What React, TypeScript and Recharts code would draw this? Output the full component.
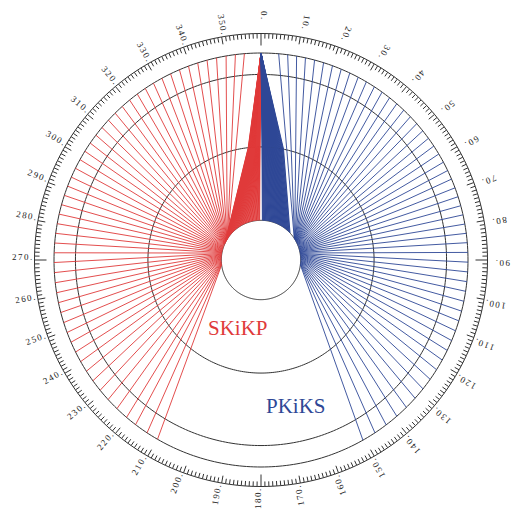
import React from 'react';
import { ComposedChart, Line, Scatter, XAxis, YAxis } from 'recharts';

// radii in km
const EARTH_R = 6371;
const DISC_R = 5711;
const CMB_R = 3480;
const ICB_R = 1221;

// where the rays come back to the surface, degrees clockwise from the source
const skikpReceivers = [
  355.4, 352.9, 350.3, 347.6, 344.9, 342.2, 339.5, 336.8, 334.1, 331.4, 328.7, 326.0,
  323.3, 320.6, 317.9, 315.2, 312.5, 309.8, 307.1, 304.4, 301.7, 299.0, 296.3, 293.6,
  290.9, 288.2, 285.5, 282.8, 280.1, 277.4, 274.7, 272.0, 269.3, 266.5, 263.7, 260.9,
  258.1, 255.3, 252.4, 249.5, 246.6, 243.6, 240.6, 237.5, 234.3, 231.0, 227.6, 224.1,
  220.5, 217.3, 213.4, 210.0,
];
const pkiksReceivers = [
  4.9, 7.4, 9.9, 12.4, 15.0, 17.6, 20.2, 22.8, 25.4, 28.0, 30.6, 33.2, 35.8, 38.4,
  41.0, 43.6, 46.2, 48.8, 51.4, 54.0, 56.6, 59.2, 61.8, 64.4, 67.0, 69.6, 72.2, 74.8,
  77.4, 80.0, 82.6, 85.2, 87.9, 90.6, 93.3, 96.0, 98.7, 101.5, 104.3, 107.1, 110.0,
  112.9, 115.9, 118.9, 122.0, 125.2, 128.5, 131.9, 135.4, 139.0, 142.8, 146.6, 150.5,
];
const angleTicks = [0, 10, 20, 30, 40, 50, 60, 70, 80, 90, 100, 110, 120, 130, 140, 150, 160, 170,
  180, 190, 200, 210, 220, 230, 240, 250, 260, 270, 280, 290, 300, 310, 320, 330, 340, 350];
const phaseNames = ['SKiKP', 'PKiKS'];

const RED = '#e03a3a';
const BLUE = '#2e4796';
const KM_PER_PX = EARTH_R / 207;
const RING_R = 226.5 * KM_PER_PX;
const LABEL_R = 249 * KM_PER_PX;

const polar = (deg: number, r: number) => {
  const a = (deg * Math.PI) / 180;
  return { x: r * Math.sin(a), y: r * Math.cos(a) };
};
const gap = { x: null, y: null };

const circle = (r: number) => {
  const pts = [];
  for (let d = 0; d <= 360; d += 1) pts.push(polar(d, r));
  return pts;
};

const tickData: any[] = [];
for (let d = 0; d < 360; d++) {
  const len = d % 90 === 0 ? 12 : d % 10 === 0 ? 7.5 : 5;
  tickData.push(polar(d, RING_R), polar(d, RING_R - len * KM_PER_PX), gap);
}

// ray legs: source -> CMB -> ICB on the way down, ICB -> receiver on the way up
const buildRays = (receivers: number[], side: 'red' | 'blue') => {
  const down: any[] = [];
  const up: any[] = [];
  receivers.forEach((rec) => {
    let a, b, c;
    if (side === 'red') {
      const t = (355.4 - rec) / 145.4;
      a = 359.5 - 6 * t;
      b = 358 - 64 * t;
      c = 303 - 40 * t;
    } else {
      const t = (rec - 4.9) / 145.6;
      a = 0.5 + 11 * t;
      b = 2 + 45 * t;
      c = 57 + 40 * t;
    }
    down.push(polar(0, EARTH_R), polar(a, CMB_R), polar(b, ICB_R), gap);
    up.push(polar(c, ICB_R), polar(rec, EARTH_R), gap);
  });
  return { down, up };
};

const redRays = buildRays(skikpReceivers, 'red');
const blueRays = buildRays(pkiksReceivers, 'blue');

const labelData = angleTicks.map((d) => ({ ...polar(d, LABEL_R), deg: d, text: `${d}.` }));
const phaseData = [
  { x: (208 - 261) * KM_PER_PX, y: (260 - 335) * KM_PER_PX, text: phaseNames[0], color: RED },
  { x: (266 - 261) * KM_PER_PX, y: (260 - 413) * KM_PER_PX, text: phaseNames[1], color: BLUE },
];

const AngleLabel = (props: any) => {
  const { cx, cy, payload } = props;
  return (
    <text
      x={cx}
      y={cy}
      transform={`rotate(${payload.deg + 90} ${cx} ${cy})`}
      fontSize={9}
      fontFamily="'Liberation Serif', serif"
      letterSpacing={1.5}
      fill="#222"
    >
      {payload.text}
    </text>
  );
};

const PhaseLabel = (props: any) => {
  const { cx, cy, payload } = props;
  return (
    <text x={cx} y={cy} fontSize={21} fontFamily="'Liberation Serif', serif" fill={payload.color}>
      {payload.text}
    </text>
  );
};

export default function App() {
  const common = { dataKey: 'y', dot: false, activeDot: false, isAnimationActive: false, type: 'linear' as const };
  return (
    <div style={{ position: 'absolute', left: 0, top: 0, width: 514, height: 512, background: '#fff' }}>
      <ComposedChart width={514} height={512} margin={{ top: 0, right: 0, bottom: 0, left: 0 }}>
        <XAxis type="number" dataKey="x" hide domain={[-261 * KM_PER_PX, 253 * KM_PER_PX]} allowDataOverflow />
        <YAxis type="number" dataKey="y" hide domain={[-252 * KM_PER_PX, 260 * KM_PER_PX]} allowDataOverflow />
        <Line {...common} data={circle(ICB_R)} stroke="#333" strokeWidth={1} />
        <Line {...common} data={circle(CMB_R)} stroke="#333" strokeWidth={1} />
        <Line {...common} data={circle(DISC_R)} stroke="#333" strokeWidth={1} />
        <Line {...common} data={circle(EARTH_R)} stroke="#333" strokeWidth={1} />
        <Line {...common} data={redRays.up} stroke={RED} strokeWidth={0.9} />
        <Line {...common} data={blueRays.up} stroke={BLUE} strokeWidth={0.9} />
        <Line {...common} data={redRays.down} stroke={RED} strokeWidth={1} />
        <Line {...common} data={blueRays.down} stroke={BLUE} strokeWidth={1} />
        <Line {...common} data={circle(RING_R)} stroke="#333" strokeWidth={1} />
        <Line {...common} data={tickData} stroke="#333" strokeWidth={1} />
        <Scatter data={labelData} dataKey="y" isAnimationActive={false} shape={<AngleLabel />} />
        <Scatter data={phaseData} dataKey="y" isAnimationActive={false} shape={<PhaseLabel />} />
      </ComposedChart>
    </div>
  );
}
